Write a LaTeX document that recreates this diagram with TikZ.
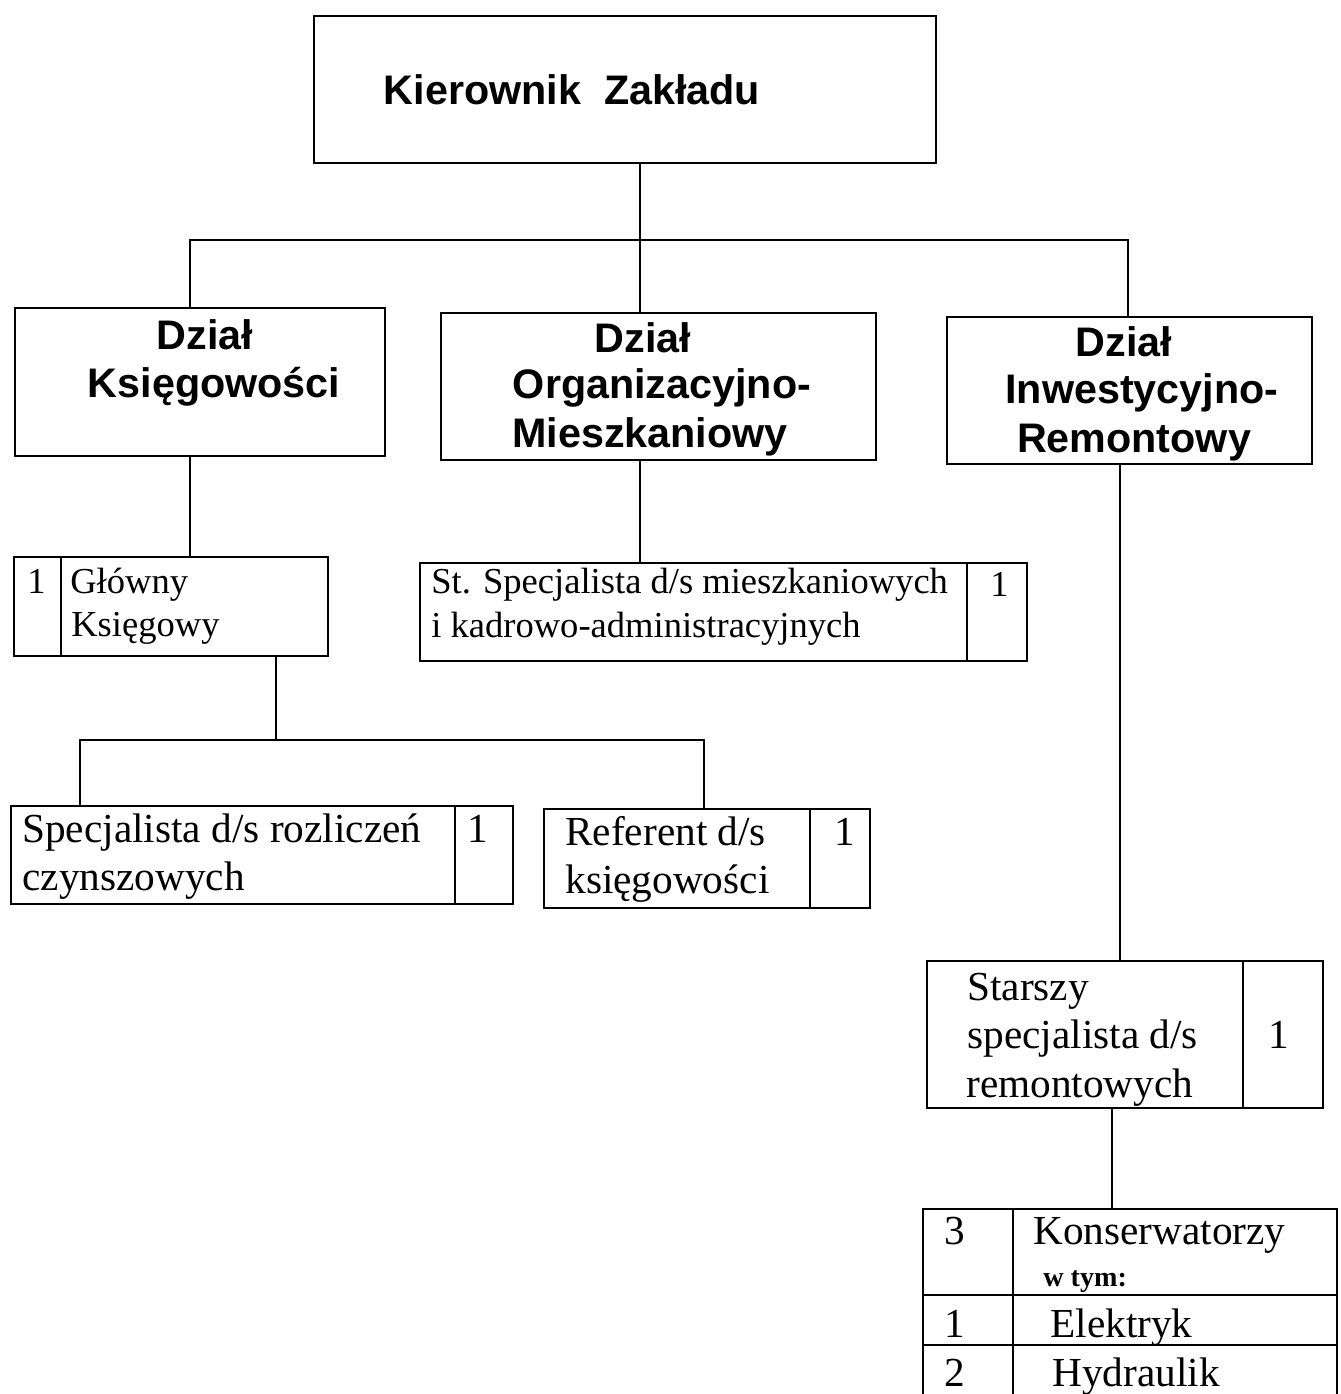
\documentclass[tikz,border=0pt]{standalone}
\usepackage{fontspec}
\setmainfont{Liberation Serif}
\newfontfamily\headfont{Liberation Sans}
\begin{document}
\begin{tikzpicture}[x={(0.02cm,0)},y={(0,-0.02cm)}]
\tikzset{
 box/.style={draw, line width=1pt, inner sep=0pt, anchor=north west},
 tx/.style={inner sep=0pt, anchor=base west, font=\fontsize{23.5pt}{28pt}\selectfont},
 txs/.style={inner sep=0pt, anchor=base west, font=\fontsize{20.8pt}{25pt}\selectfont},
 txw/.style={inner sep=0pt, anchor=base west, font=\bfseries\fontsize{16pt}{19pt}\selectfont},
 hd/.style={inner sep=0pt, anchor=base, font=\headfont\bfseries\fontsize{23.5pt}{28pt}\selectfont},
 ln/.style={line width=1pt},
}
\useasboundingbox (0,0) rectangle (1341,1394);

% boxes
\node[box, minimum width=12.44cm, minimum height=2.94cm] (kz) at (313,15) {};
\node[box, minimum width=7.4cm, minimum height=2.96cm] (dk) at (14,307) {};
\node[box, minimum width=8.7cm, minimum height=2.94cm] (dom) at (440,312) {};
\node[box, minimum width=7.3cm, minimum height=2.94cm] (dir) at (946,316) {};
\node[box, minimum width=6.28cm, minimum height=1.98cm] (gk) at (13,556) {};
\node[box, minimum width=12.14cm, minimum height=1.96cm] (ss) at (419,562) {};
\node[box, minimum width=10.04cm, minimum height=1.96cm] (sp) at (10,805) {};
\node[box, minimum width=6.52cm, minimum height=1.98cm] (rf) at (543,808) {};
\node[box, minimum width=7.92cm, minimum height=2.94cm] (st) at (926,960) {};
\node[box, minimum width=8.28cm, minimum height=3.84cm] (kt) at (922,1208) {};

% dividers
\draw[ln] (61,556) -- (61,655);
\draw[ln] (967,562) -- (967,660);
\draw[ln] (455,805) -- (455,903);
\draw[ln] (810,808) -- (810,907);
\draw[ln] (1243,960) -- (1243,1107);
\draw[ln] (1013,1208) -- (1013,1400);
\draw[ln] (922,1295) -- (1336,1295);
\draw[ln] (922,1345) -- (1336,1345);

% headings
\node[hd] (t0) at (572,104) {Kierownik\ \ Zakładu};
\node[hd] (t1) at (205,349) {Dział};
\node[hd] (t2) at (214,397) {Księgowości};
\node[hd] (t3) at (643,352) {Dział};
\node[hd] (t4) at (662,398) {Organizacyjno-};
\node[hd] (t5) at (650,447) {Mieszkaniowy};
\node[hd] (t6) at (1124,356) {Dział};
\node[hd] (t7) at (1142,403) {Inwestycyjno-};
\node[hd] (t8) at (1134,452) {Remontowy};

% serif texts
\node[txs] (a1) at (27,593) {1};
\node[txs] (a2) at (70,593) {Główny};
\node[txs] (a3) at (71,636) {Księgowy};
\node[txs] (b1) at (431,593) {St. Specjalista d/s mieszkaniowych};
\node[txs] (b2) at (431,637) {i kadrowo-administracyjnych};
\node[txs] (b3) at (990,596) {1};
\node[tx] (c1) at (22,842) {Specjalista d/s rozliczeń};
\node[tx] (c2) at (22,890) {czynszowych};
\node[tx] (c3) at (467,842) {1};
\node[tx] (d1) at (565,845) {Referent d/s};
\node[tx] (d2) at (565,893) {księgowości};
\node[tx] (d3) at (834,845) {1};
\node[tx] (e1) at (967,1000) {Starszy};
\node[tx] (e2) at (967,1048) {specjalista d/s};
\node[tx] (e3) at (966,1097) {remontowych};
\node[tx] (e4) at (1268,1048) {1};
\node[tx] (f1) at (944,1244) {3};
\node[tx] (f2) at (1033,1244) {Konserwatorzy};
\node[txw] (f3) at (1043,1286) {w tym:};
\node[tx] (f4) at (944,1337) {1};
\node[tx] (f5) at (1050,1337) {Elektryk};
\node[tx] (f6) at (944,1386) {2};
\node[tx] (f7) at (1052,1386) {Hydraulik};

% connectors
\coordinate (j0) at (640,240);
\coordinate (jl) at (190,240);
\coordinate (jr) at (1128,240);
\coordinate (j1) at (276,740);
\coordinate (j1l) at (80,740);
\coordinate (j1r) at (704,740);
\coordinate (j2) at (1120,0);
\coordinate (j3) at (1112,0);
\draw[ln] (kz.south -| j0) -- (dom.north -| j0);
\draw[ln] (dk.north -| jl) -- (jl) -- (jr) -- (dir.north -| jr);
\draw[ln] (dk.south -| jl) -- (gk.north -| jl);
\draw[ln] (dom.south -| j0) -- (ss.north -| j0);
\draw[ln] (gk.south -| j1) -- (j1);
\draw[ln] (sp.north -| j1l) -- (j1l) -- (j1r) -- (rf.north -| j1r);
\draw[ln] (dir.south -| j2) -- (st.north -| j2);
\draw[ln] (st.south -| j3) -- (kt.north -| j3);
\end{tikzpicture}
\end{document}
